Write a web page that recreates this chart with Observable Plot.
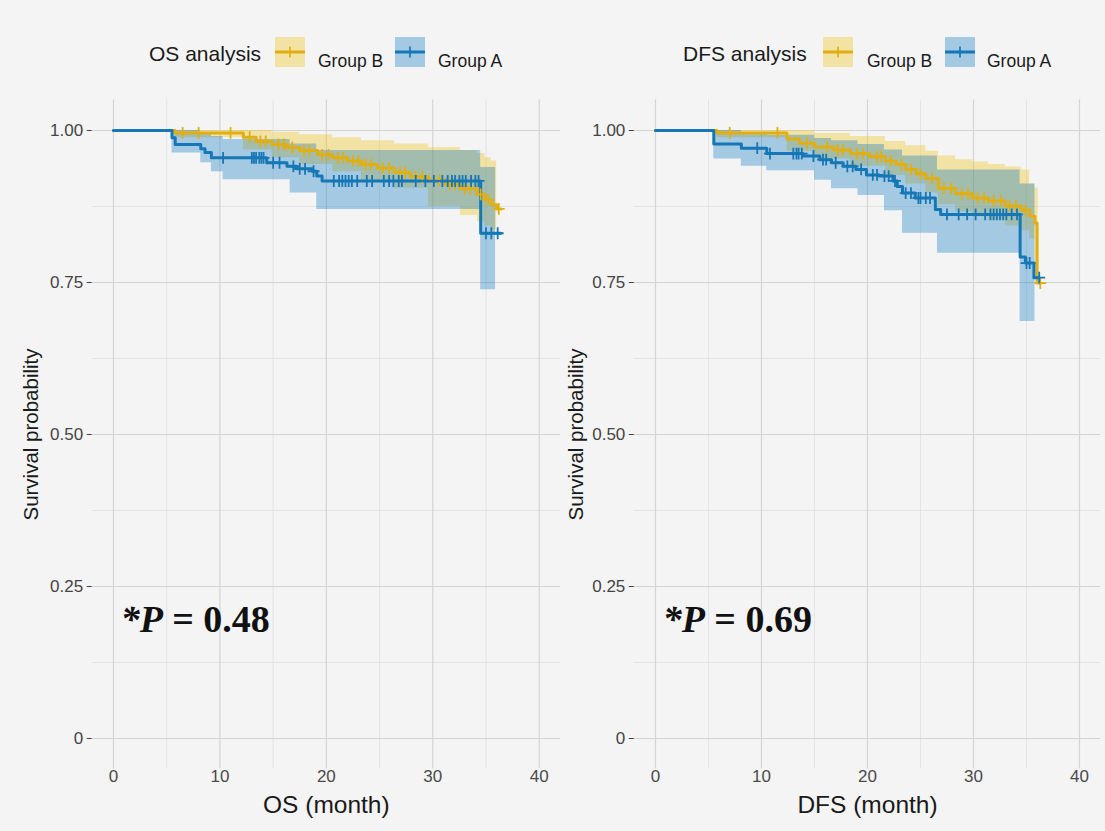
<!DOCTYPE html>
<html>
<head>
<meta charset="utf-8">
<script src="https://cdn.jsdelivr.net/npm/d3@7"></script>
<script src="https://cdn.jsdelivr.net/npm/@observablehq/plot@0.6"></script>
<style>
  html, body { margin: 0; padding: 0; background: #f4f4f4; }
  body { width: 1105px; height: 831px; overflow: hidden; position: relative; font-family: "Liberation Sans", Arial, sans-serif; }
  .panel { position: absolute; top: 0; }
  .panel svg { display: block; }
</style>
</head>
<body>
<div id="left" class="panel" style="left:0px;width:580px"></div>
<div id="right" class="panel" style="left:545px;width:560px"></div>
<script>
// ---------------- data ----------------
const groups = ["Group B", "Group A"];
const xTicks = [0, 10, 20, 30, 40];
const xMinor = [5, 15, 25, 35];
const yTicks = [0, 0.25, 0.5, 0.75, 1];
const yMinor = [0.125, 0.375, 0.625, 0.875];
const yTickLabels = ["0", "0.25", "0.50", "0.75", "1.00"];

// OS, Group A (blue) Kaplan–Meier steps
const osA_t = [0, 5.5, 5.8, 8.2, 8.6, 9.2, 14.4, 16.3, 17.2, 18.7, 19.1, 19.6, 34.5, 36.4];
const osA_s = [1.0, 0.988, 0.977, 0.970, 0.964, 0.955, 0.947, 0.941, 0.937, 0.933, 0.925, 0.917, 0.831, 0.831];
const osA_cens = [10.3, 13.0, 13.2, 13.4, 13.7, 13.9, 14.1, 15.0, 15.6, 16.9, 17.5, 18.0, 18.8, 20.7, 21.2, 21.5, 21.8, 22.1, 22.4, 22.9, 23.8, 24.3, 25.4, 25.9, 26.3, 26.8, 27.1, 28.4, 29.3, 30.1, 30.9, 31.4, 31.8, 32.1, 32.5, 32.8, 33.1, 33.6, 34.0, 34.3, 35.0, 35.5, 36.1];
const osA_bt = [0, 5.5, 8.2, 9.2, 10.3, 16.6, 19.1, 34.5, 35.9];
const osA_lo = [1, 0.963, 0.947, 0.932, 0.919, 0.897, 0.870, 0.738, 0.738];
const osA_hi = [1, 1.000, 0.995, 0.990, 0.985, 0.978, 0.967, 0.939, 0.939];

// OS, Group B (yellow)
const osB_t = [0, 5.8, 12.2, 13.4, 14.9, 16.2, 17.5, 19.2, 20.6, 22.0, 23.3, 24.8, 26.4, 27.9, 29.6, 31.2, 32.6, 34.2, 34.9, 35.5, 36.0, 36.4];
const osB_s = [1.0, 0.996, 0.989, 0.982, 0.977, 0.972, 0.967, 0.960, 0.955, 0.950, 0.944, 0.938, 0.931, 0.924, 0.918, 0.911, 0.904, 0.895, 0.886, 0.878, 0.871, 0.871];
const osB_cens = [6.5, 8.0, 11.0, 12.8, 13.8, 14.3, 15.5, 16.0, 16.8, 17.9, 18.4, 19.6, 20.2, 21.1, 21.6, 22.5, 23.0, 23.7, 24.2, 25.3, 25.9, 26.9, 27.4, 28.4, 29.0, 30.1, 30.6, 31.6, 32.1, 33.0, 33.5, 34.5, 35.2, 36.2];
const osB_bt = [0, 5.8, 12.2, 14.9, 17.5, 20.6, 23.3, 26.4, 29.6, 32.6, 34.2, 34.9, 35.5, 36.0];
const osB_lo = [1, 0.988, 0.968, 0.955, 0.944, 0.932, 0.918, 0.905, 0.875, 0.860, 0.850, 0.843, 0.836, 0.836];
const osB_hi = [1, 1.000, 1.000, 0.997, 0.993, 0.988, 0.983, 0.978, 0.972, 0.967, 0.962, 0.955, 0.950, 0.950];

// DFS, Group A (blue)
const dfsA_t = [0, 5.5, 8.1, 10.5, 13.9, 15.5, 16.6, 17.7, 18.9, 19.9, 21.1, 22.4, 22.8, 23.3, 24.5, 26.4, 26.9, 34.4, 34.9, 35.7, 36.2];
const dfsA_s = [1.0, 0.978, 0.971, 0.962, 0.958, 0.952, 0.947, 0.941, 0.936, 0.927, 0.925, 0.917, 0.908, 0.897, 0.889, 0.870, 0.862, 0.792, 0.782, 0.758, 0.758];
const dfsA_cens = [9.6, 10.8, 13.0, 13.3, 13.5, 13.8, 14.9, 15.8, 16.1, 17.0, 18.1, 18.6, 19.4, 20.5, 20.9, 21.6, 22.0, 22.6, 23.6, 24.1, 24.8, 25.0, 25.5, 25.9, 27.5, 28.6, 29.4, 30.2, 31.1, 31.6, 31.9, 32.2, 32.5, 32.8, 33.1, 33.6, 34.1, 35.0, 35.3, 36.2];
const dfsA_bt = [0, 5.5, 8.1, 10.5, 15.0, 16.6, 19.1, 21.6, 23.3, 26.6, 34.4, 35.8];
const dfsA_lo = [1, 0.953, 0.941, 0.934, 0.918, 0.904, 0.893, 0.868, 0.831, 0.798, 0.686, 0.686];
const dfsA_hi = [1, 1.000, 0.996, 0.992, 0.987, 0.983, 0.977, 0.968, 0.958, 0.935, 0.912, 0.912];

// DFS, Group B (yellow)
const dfsB_t = [0, 5.8, 12.4, 13.6, 15.0, 16.8, 18.4, 20.2, 21.7, 22.7, 23.6, 24.6, 25.5, 26.7, 28.3, 29.9, 31.4, 33.0, 34.5, 35.3, 35.8, 36.0, 36.3];
const dfsB_s = [1.0, 0.996, 0.986, 0.979, 0.973, 0.968, 0.962, 0.957, 0.950, 0.944, 0.936, 0.929, 0.921, 0.905, 0.896, 0.889, 0.884, 0.876, 0.869, 0.859, 0.848, 0.749, 0.749];
const dfsB_cens = [7.0, 11.5, 14.3, 16.2, 17.2, 17.7, 19.0, 19.6, 20.9, 21.3, 22.2, 23.2, 24.1, 25.0, 26.1, 27.2, 27.9, 28.9, 29.5, 30.4, 31.0, 31.9, 32.6, 33.4, 34.0, 34.9, 36.3];
const dfsB_bt = [0, 5.8, 12.4, 15.0, 18.4, 21.7, 23.6, 25.5, 26.7, 28.3, 29.9, 31.4, 33.0, 34.5, 35.3, 35.8, 36.1];
const dfsB_lo = [1, 0.988, 0.966, 0.953, 0.941, 0.926, 0.912, 0.897, 0.878, 0.866, 0.858, 0.852, 0.843, 0.835, 0.822, 0.760, 0.760];
const dfsB_hi = [1, 1.000, 1.000, 0.995, 0.990, 0.982, 0.975, 0.966, 0.958, 0.952, 0.948, 0.944, 0.940, 0.935, 0.912, 0.905, 0.905];

const pValues = ["0.48", "0.69"];
const panelTitles = ["OS analysis", "DFS analysis"];
const xLabels = ["OS (month)", "DFS (month)"];
const yLabel = "Survival probability";

// ---------------- styling ----------------
const lineColor = {"Group A": "#1677b6", "Group B": "#e2af12"};
const fillColor = {"Group A": "#0073C2", "Group B": "#EFC000"};
const bandOpacity = 0.33;

const steps = (t, s) => t.map((d, i) => ({t: d, s: s[i]}));
const band = (t, lo, hi) => t.map((d, i) => ({t: d, lo: lo[i], hi: hi[i]}));
const cens = (c, t, s) => c.map(v => ({t: v, s: s[Math.max(0, d3.bisectRight(t, v) - 1)]}));

function legendSvg(width, title, pos) {
  const ns = "http://www.w3.org/2000/svg";
  const svg = document.createElementNS(ns, "svg");
  svg.setAttribute("width", width);
  svg.setAttribute("height", 90);
  const mk = (tag, attrs, text) => {
    const e = document.createElementNS(ns, tag);
    for (const k in attrs) e.setAttribute(k, attrs[k]);
    if (text) e.textContent = text;
    svg.appendChild(e);
    return e;
  };
  mk("text", {x: pos.title, y: 60.5, "font-size": 21, fill: "#1a1a1a", "font-family": "Liberation Sans, Arial, sans-serif"}, title);
  groups.forEach((g, i) => {
    const bx = pos.boxes[i];
    mk("rect", {x: bx, y: 37, width: 30, height: 30, fill: fillColor[g], "fill-opacity": bandOpacity});
    mk("line", {x1: bx, x2: bx + 30, y1: 52, y2: 52, stroke: lineColor[g], "stroke-width": 3});
    mk("line", {x1: bx + 15, x2: bx + 15, y1: 46.5, y2: 57.5, stroke: lineColor[g], "stroke-width": 1.7});
    mk("text", {x: pos.labels[i], y: 67, "font-size": 17.5, fill: "#1a1a1a", "font-family": "Liberation Sans, Arial, sans-serif"}, g);
  });
  return svg;
}

function panel(el, cfg) {
  const {width, ml, mr, lines, bands, censors, xLabel, p, title, legendPos} = cfg;
  el.appendChild(legendSvg(width, title, legendPos));
  const marks = [
    Plot.gridX(xMinor, {stroke: "#e0e0e0", strokeOpacity: 1, strokeWidth: 0.8}),
    Plot.gridY(yMinor, {stroke: "#e0e0e0", strokeOpacity: 1, strokeWidth: 0.8}),
    Plot.gridX(xTicks, {stroke: "#d4d4d4", strokeOpacity: 1, strokeWidth: 1.2}),
    Plot.gridY(yTicks, {stroke: "#d4d4d4", strokeOpacity: 1, strokeWidth: 1.2})
  ];
  groups.forEach(g => {
    marks.push(Plot.areaY(bands[g], {x: "t", y1: "lo", y2: "hi", curve: "step-after", fill: fillColor[g], fillOpacity: bandOpacity}));
  });
  groups.forEach(g => {
    marks.push(Plot.line(lines[g], {x: "t", y: "s", curve: "step-after", stroke: lineColor[g], strokeWidth: 3}));
  });
  groups.forEach(g => {
    marks.push(Plot.dot(censors[g], {x: "t", y: "s", symbol: "plus", r: 3.9, stroke: lineColor[g], strokeWidth: 1.8}));
  });
  marks.push(
    Plot.axisX(xTicks, {tickSize: 0, tickPadding: 1, fontSize: 17, color: "#4a4a4a", label: null}),
    Plot.axisY(yTicks, {tickSize: 5, tickPadding: 4, fontSize: 17, color: "#444", label: null, tickFormat: d => yTickLabels[yTicks.indexOf(d)]}),
    Plot.text([xLabel], {text: d => d, frameAnchor: "bottom", textAnchor: "middle", lineAnchor: "bottom", dy: 44, fontSize: 24.5, fill: "#1a1a1a"}),
    Plot.text([yLabel], {text: d => d, frameAnchor: "left", textAnchor: "middle", rotate: -90, dx: 31 - ml, fontSize: 20.5, fill: "#1a1a1a"}),
    Plot.text(["*P"], {text: d => d, frameAnchor: "bottom-left", textAnchor: "start", lineAnchor: "bottom", dx: 28.5, dy: -136.5, fontSize: 38, fontFamily: "Liberation Serif, Times New Roman, serif", fontWeight: "bold", fontStyle: "italic", fill: "#111"}),
    Plot.text(["= " + p], {text: d => d, frameAnchor: "bottom-left", textAnchor: "start", lineAnchor: "bottom", dx: 80, dy: -136.5, fontSize: 38, fontFamily: "Liberation Serif, Times New Roman, serif", fontWeight: "bold", fill: "#111"})
  );
  const chart = Plot.plot({
    width, height: 741,
    marginLeft: ml, marginRight: mr, marginTop: 9.6, marginBottom: 62.6,
    style: {background: "transparent", fontFamily: "Liberation Sans, Arial, sans-serif", overflow: "visible"},
    x: {domain: [-2, 42], axis: null, label: null},
    y: {domain: [-0.05, 1.05], axis: null, label: null},
    marks
  });
  el.appendChild(chart);
}

panel(document.getElementById("left"), {
  width: 580, ml: 91.7, mr: 20,
  title: panelTitles[0], xLabel: xLabels[0], p: pValues[0],
  legendPos: {title: 149, boxes: [275, 395], labels: [318, 438]},
  lines: {"Group A": steps(osA_t, osA_s), "Group B": steps(osB_t, osB_s)},
  bands: {"Group A": band(osA_bt, osA_lo, osA_hi), "Group B": band(osB_bt, osB_lo, osB_hi)},
  censors: {"Group A": cens(osA_cens, osA_t, osA_s), "Group B": cens(osB_cens, osB_t, osB_s)}
});

panel(document.getElementById("right"), {
  width: 560, ml: 88.8, mr: 4.8,
  title: panelTitles[1], xLabel: xLabels[1], p: pValues[1],
  legendPos: {title: 138, boxes: [278, 400], labels: [322, 442]},
  lines: {"Group A": steps(dfsA_t, dfsA_s), "Group B": steps(dfsB_t, dfsB_s)},
  bands: {"Group A": band(dfsA_bt, dfsA_lo, dfsA_hi), "Group B": band(dfsB_bt, dfsB_lo, dfsB_hi)},
  censors: {"Group A": cens(dfsA_cens, dfsA_t, dfsA_s), "Group B": cens(dfsB_cens, dfsB_t, dfsB_s)}
});
</script>
</body>
</html>
